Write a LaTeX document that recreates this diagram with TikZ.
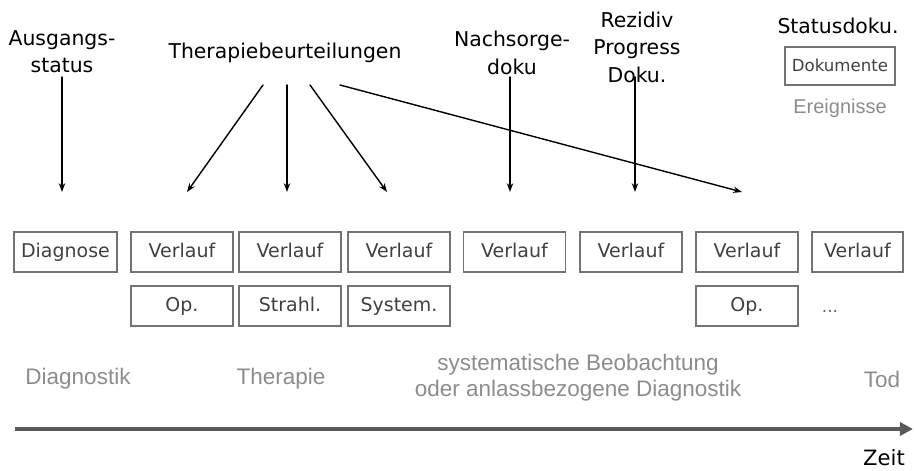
\documentclass[tikz,border=0pt]{standalone}
\usepackage{fontspec}
\setmainfont{DejaVu Sans}
\newfontfamily\arialfont{Liberation Sans}
\usetikzlibrary{arrows.meta}

\begin{document}
\begin{tikzpicture}[x=0.025cm,y=-0.025cm,>={Stealth[length=2.2mm,width=1.6mm]},line cap=round,
  event/.style={draw=black!55,line width=1.3pt,text=black!75,minimum width=2.55cm,minimum height=1cm,inner sep=0pt,text height=0.9em,text depth=0.17em,font=\fontsize{13.5}{16}\selectfont},
  head/.style={align=center,inner sep=0pt,font=\fontsize{14.5}{19.5}\selectfont},
  phase/.style={text=black!45,align=center,inner sep=0pt,font=\arialfont\fontsize{16}{18.5}\selectfont}]
\useasboundingbox (0,0) rectangle (914,471);
% Dokumentationsanlaesse
\node[head] (ausg) at (62,52) {Ausgangs-\\status};
\node[head] (ther) at (285,53) {Therapiebeurteilungen};
\node[head] (nach) at (512,53) {Nachsorge-\\doku};
\node[head] (rez) at (637,47) {Rezidiv\\Progress\\Doku.};
\node[head] (stat) at (838,26) {Statusdoku.};
% Legende
\node[event,minimum width=2.75cm,minimum height=0.95cm,font=\fontsize{11.8}{14}\selectfont] (dok) at (840,66) {Dokumente};
\node[phase,font=\arialfont\fontsize{14.2}{17}\selectfont] (ereig) at (840,108) {Ereignisse};
% Ereignisse
\node[event,minimum width=2.575cm] (diag) at (65.5,252) {Diagnose};
\node[event] (v1) at (182,252) {Verlauf};
\node[event] (v2) at (290,252) {Verlauf};
\node[event] (v3) at (399,252) {Verlauf};
\node[event] (v4) at (514.5,252) {Verlauf};
\node[event] (v5) at (631,252) {Verlauf};
\node[event] (v6) at (747,252) {Verlauf};
\node[event,minimum width=2.275cm] (v7) at (857.5,252) {Verlauf};
\node[event] (op1) at (182,306) {Op.};
\node[event] (strahl) at (290,306) {Strahl.};
\node[event] (sys) at (399,306) {System.};
\node[event] (op2) at (747,306) {Op.};
\node[text=black!60,font=\fontsize{12}{14}\selectfont] (more) at (830,311) {...};
% Phasen
\node[phase] (diagn) at (78,379) {Diagnostik};
\node[phase] (thera) at (281,379) {Therapie};
\node[phase] (beob) at (578,378) {systematische Beobachtung\\oder anlassbezogene Diagnostik};
\node[phase] (tod) at (882,379) {Tod};
% Pfeile
\coordinate (a0) at (62,77);  \coordinate (e0) at (62,192);
\coordinate (a1) at (263,85); \coordinate (e1) at (187,192);
\coordinate (a2) at (287,85); \coordinate (e2) at (287,192);
\coordinate (a3) at (310,85); \coordinate (e3) at (387,192);
\coordinate (a4) at (340,85); \coordinate (e4) at (742,192);
\coordinate (a5) at (510,77); \coordinate (e5) at (510,192);
\coordinate (a6) at (635,77); \coordinate (e6) at (635,192);
\draw[->,line width=1pt] (a0) -- (e0);
\draw[->,line width=1pt] (a1) -- (e1);
\draw[->,line width=1pt] (a2) -- (e2);
\draw[->,line width=1pt] (a3) -- (e3);
\draw[->,line width=1pt] (a4) -- (e4);
\draw[->,line width=1pt] (a5) -- (e5);
\draw[->,line width=1pt] (a6) -- (e6);
% Zeitachse
\coordinate (t0) at (15,429);
\coordinate (t1) at (913,429);
\draw[black!65,line width=0.1cm,line cap=butt,-{Triangle[length=0.33cm,width=0.33cm]}] (t0) -- (t1);
\node[font=\fontsize{15}{18}\selectfont,inner sep=0pt] (zeit) at (884,458) {Zeit};
\end{tikzpicture}
\end{document}
